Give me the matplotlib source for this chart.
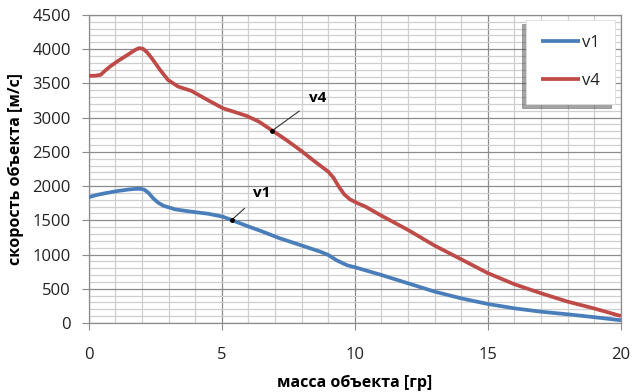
import matplotlib
matplotlib.use("Agg")
import matplotlib.pyplot as plt
from matplotlib.ticker import MultipleLocator

plt.rcParams['font.family'] = ['Open Sans', 'DejaVu Sans']

# data
x_v4 = [0, 0.25, 0.45, 0.6, 0.8, 1.1, 1.5, 1.75, 1.9, 2.05, 2.2, 2.37, 2.68, 2.98, 3.36, 3.86,
        4.5, 5.04, 5.5, 5.94, 6.4, 6.88, 7.4, 7.94, 8.5, 9.0, 9.2, 9.4, 9.6, 9.82, 10.1, 10.4, 10.95,
        12, 13, 14, 15, 16, 17, 18, 19, 20]
v4 = [3610, 3612, 3625, 3680, 3745, 3828, 3926, 3990, 4015, 4003, 3950, 3867, 3697, 3550, 3453, 3390,
      3250, 3137, 3080, 3024, 2940, 2815, 2680, 2528, 2357, 2211, 2120, 1990, 1880, 1805, 1750, 1700, 1578,
      1359, 1130, 930, 728, 566, 434, 312, 212, 102]

x_v1 = [0, 0.3, 0.61, 1.1, 1.5, 1.74, 1.95, 2.1, 2.25, 2.42, 2.6, 2.8, 3.0, 3.24, 3.5, 3.86,
        4.5, 5.04, 5.36, 6.0, 6.5, 7.18, 7.94, 8.7, 9.0, 9.32, 9.7, 10.06, 11, 12, 13, 14, 15,
        16, 17, 18, 19, 20]
v1 = [1838, 1870, 1895, 1929, 1950, 1958, 1960, 1945, 1900, 1822, 1760, 1714, 1690, 1661, 1645, 1626,
      1595, 1553, 1505, 1410, 1340, 1237, 1140, 1042, 994, 915, 845, 808, 701, 580, 458, 360, 278,
      214, 165, 127, 85, 40]

x_ticks = [0, 5, 10, 15, 20]
y_ticks = [0, 500, 1000, 1500, 2000, 2500, 3000, 3500, 4000, 4500]

BLUE = '#4A7EBB'
RED = '#BE4B48'

fig = plt.figure(figsize=(6.32, 3.92), dpi=100)
ax = fig.add_axes([0.1404, 0.176, 0.8421, 0.786])

ax.plot(x_v1, v1, color=BLUE, lw=2.7, label='v1', solid_joinstyle='round',
        solid_capstyle='butt', zorder=3)
ax.plot(x_v4, v4, color=RED, lw=2.7, label='v4', solid_joinstyle='round',
        solid_capstyle='butt', zorder=3)

ax.set_xlim(0, 20)
ax.set_ylim(0, 4500)
ax.set_xticks(x_ticks)
ax.set_yticks(y_ticks)
ax.xaxis.set_minor_locator(MultipleLocator(1))
ax.yaxis.set_minor_locator(MultipleLocator(100))
ax.grid(which='major', color='#8c8c8c', lw=0.9, zorder=1)
ax.grid(which='minor', color='#cfcfcf', lw=0.9, zorder=0)
ax.set_axisbelow(True)
for s in ax.spines.values():
    s.set_color('#8c8c8c')
    s.set_linewidth(0.9)
ax.tick_params(which='major', direction='out', length=5, color='#8c8c8c',
               labelsize=12, labelcolor='#222222', pad=8)
ax.tick_params(axis='x', which='major', pad=12)
ax.tick_params(which='minor', length=0)

ax.set_xlabel('масса объекта [гр]', fontsize=11.5, fontweight='bold', labelpad=9)
ax.set_ylabel('скорость объекта [м/с]', fontsize=11.5, fontweight='bold', labelpad=6)

# callouts
ax.annotate('v4', xy=(6.88, 2805), xytext=(8.6, 3290), fontsize=11, fontweight='bold',
            ha='center', va='center',
            arrowprops=dict(arrowstyle='-', color='#333333', lw=0.8, shrinkA=6, shrinkB=0))
ax.annotate('v1', xy=(5.37, 1505), xytext=(6.5, 1900), fontsize=11, fontweight='bold',
            ha='center', va='center',
            arrowprops=dict(arrowstyle='-', color='#333333', lw=0.8, shrinkA=6, shrinkB=0))
ax.plot([6.88, 5.37], [2805, 1505], ls='none', marker='o', ms=2.5, color='black', zorder=4)

leg = ax.legend(loc='upper right', bbox_to_anchor=(0.973, 0.949),
                bbox_transform=fig.transFigure, fontsize=12, frameon=True,
                fancybox=False, handlelength=2.3, handletextpad=0.15,
                labelspacing=1.3, borderpad=0.9, borderaxespad=0,
                shadow={'ox': -3, 'oy': -3})
leg.get_frame().set_edgecolor('#dddddd')
leg.get_frame().set_linewidth(0.6)
leg.get_frame().set_facecolor('white')
for t in leg.get_texts():
    t.set_color('#222222')

fig.savefig('out.png', dpi=100)
